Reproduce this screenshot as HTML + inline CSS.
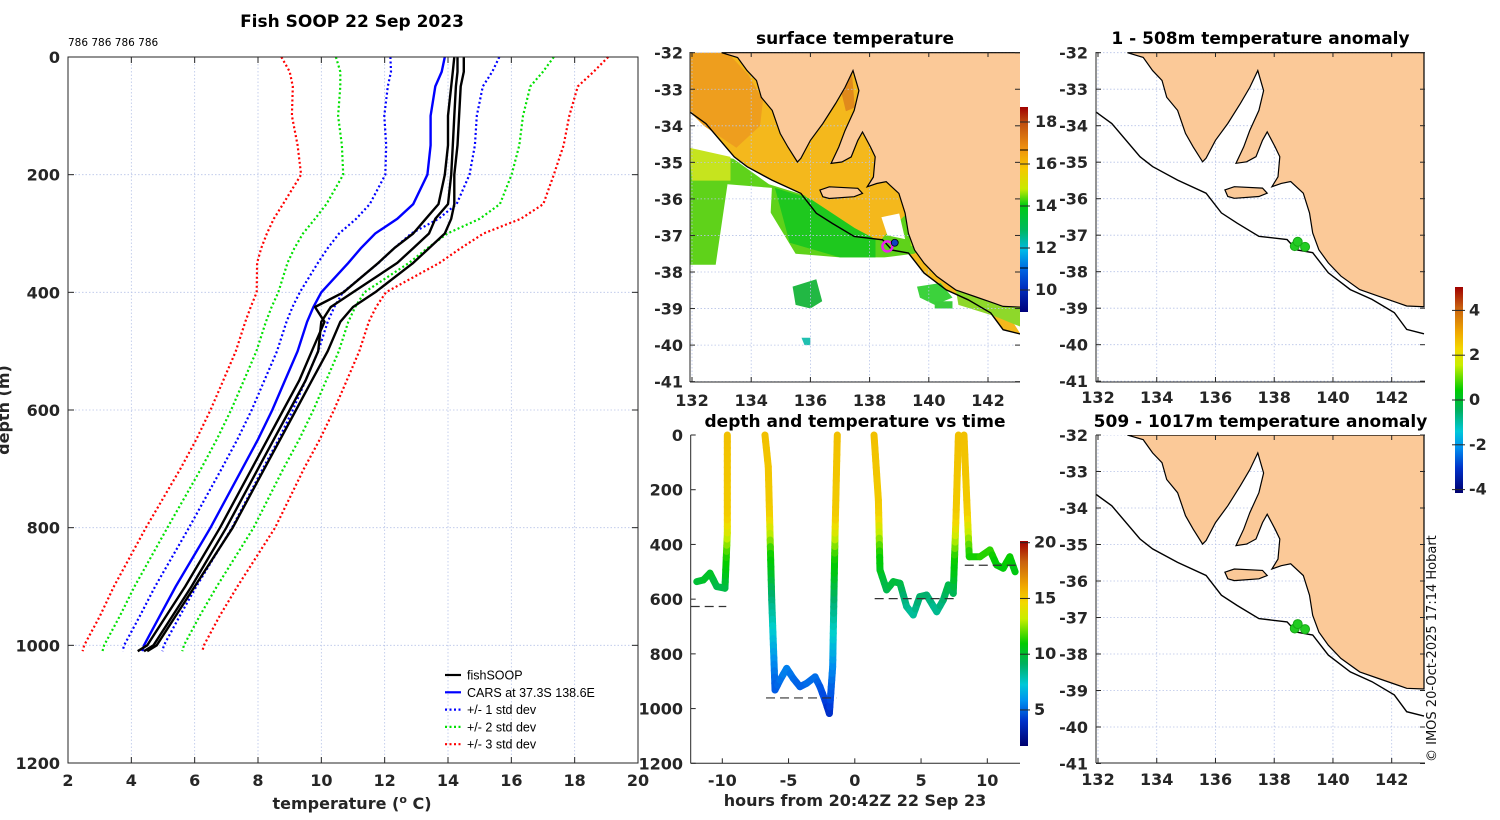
<!DOCTYPE html>
<html><head><meta charset="utf-8">
<style>
html,body{margin:0;padding:0;background:#fff;}
svg{display:block;font-family:"DejaVu Sans","Liberation Sans",sans-serif;}
.tk{font-size:16px;font-weight:bold;fill:#262626;}
.ttl{font-size:17px;font-weight:bold;fill:#000;}
</style></head>
<body>
<svg id="fig" width="1500" height="820" viewBox="0 0 1500 820" xmlns="http://www.w3.org/2000/svg">
<defs>
<linearGradient id="sstcb" x1="0" y1="1" x2="0" y2="0">
<stop offset="0" stop-color="#00007a"/><stop offset="0.12" stop-color="#0030c0"/><stop offset="0.2" stop-color="#0060e0"/>
<stop offset="0.3" stop-color="#00b8e8"/><stop offset="0.4" stop-color="#00b860"/><stop offset="0.52" stop-color="#00cc10"/>
<stop offset="0.6" stop-color="#c8ea00"/><stop offset="0.7" stop-color="#f6c800"/><stop offset="0.8" stop-color="#ee9010"/>
<stop offset="0.92" stop-color="#c05010"/><stop offset="1" stop-color="#a00000"/>
</linearGradient>
<linearGradient id="jetcb" x1="0" y1="1" x2="0" y2="0">
<stop offset="0" stop-color="#00006e"/><stop offset="0.12" stop-color="#0030c8"/><stop offset="0.22" stop-color="#0090f0"/>
<stop offset="0.3" stop-color="#00c8d8"/><stop offset="0.4" stop-color="#00b060"/><stop offset="0.5" stop-color="#00cc00"/>
<stop offset="0.62" stop-color="#c8ee00"/><stop offset="0.7" stop-color="#f4d800"/><stop offset="0.78" stop-color="#f0a800"/>
<stop offset="0.9" stop-color="#c86010"/><stop offset="1" stop-color="#a00000"/>
</linearGradient>
</defs>
<g id="root"></g>
</svg>
<script>
// ---------- DATA ----------
const depths = [0,25,50,100,150,200,250,275,300,325,350,400,425,450,500,550,600,650,700,800,900,950,1000,1010];
const carsMean = [13.9,13.8,13.6,13.45,13.45,13.35,12.9,12.4,11.7,11.25,10.85,10.0,9.75,9.55,9.25,8.85,8.45,8.0,7.5,6.5,5.4,4.9,4.4,4.35];
const carsStd = [1.72,1.6,1.5,1.46,1.4,1.33,1.37,1.3,1.14,1.05,0.96,0.68,0.66,0.65,0.65,0.65,0.65,0.65,0.65,0.68,0.65,0.63,0.63,0.63];
const soop1 = [14.3,14.3,14.25,14.2,14.15,14.1,14.0,13.6,13.4,12.9,12.4,11.0,10.3,10.0,9.9,9.5,9.0,8.5,8.0,7.0,5.9,5.3,4.7,4.4];
const soop2 = [14.5,14.5,14.4,14.35,14.3,14.2,14.2,14.1,13.9,13.4,12.9,11.7,11.0,10.6,10.2,9.7,9.2,8.7,8.2,7.2,6.0,5.4,4.8,4.5];
const soop3 = [14.2,14.15,14.1,14.0,14.0,13.9,13.7,13.3,12.9,12.3,11.8,10.7,9.8,10.1,9.7,9.3,8.8,8.3,7.8,6.8,5.7,5.1,4.5,4.2];
const tempTicks = [2,4,6,8,10,12,14,16,18,20];
const depthTicks = [0,200,400,600,800,1000,1200];

const segTimes = [
 [-11.93,-11.43,-10.93,-10.42,-9.8,-9.62,-9.62],
 [-6.78,-6.53,-6.27,-6.02,-5.65,-5.14,-4.64,-4.14,-3.64,-3.0,-2.63,-2.25,-1.92,-1.67,-1.49,-1.32],
 [1.45,1.78,1.9,2.4,2.91,3.41,3.91,4.41,4.9,5.42,6.18,6.68,7.06,7.43,7.64,7.82],
 [8.24,8.45,8.64,9.45,10.2,10.71,11.2,11.7,12.1]];
const segDepths = [
 [536,530,505,554,560,358,0],
 [0,116,603,932,896,853,890,920,908,884,920,969,1018,847,359,0],
 [0,238,493,566,536,542,627,658,591,585,646,603,548,579,298,0],
 [0,238,445,445,420,475,487,445,500]];
const meanDepth = [627,961,598,476];
const meanStart = [-12.5,-6.7,1.5,8.3];
const meanEnd = [-9.7,-1.4,7.7,12.5];
const hourTicks = [-10,-5,0,5,10];

const latTicks = [-32,-33,-34,-35,-36,-37,-38,-39,-40,-41];
const lonTicks = [132,134,136,138,140,142];
const coastLon = [133.0,133.54,133.86,134.18,134.34,134.71,134.98,135.24,135.56,135.68,136.0,136.42,136.85,137.17,137.44,137.64,137.48,137.17,136.96,136.7,137.06,137.38,137.6,137.76,138.03,138.19,138.13,137.92,138.24,138.56,138.99,139.2,139.31,139.52,139.84,140.27,140.91,141.55,142.19,142.51,143.1,143.1];
const coastLat = [-32.0,-32.13,-32.49,-32.76,-33.22,-33.58,-34.21,-34.58,-34.99,-34.89,-34.40,-33.94,-33.39,-32.95,-32.49,-33.04,-33.58,-34.13,-34.58,-35.03,-34.99,-34.85,-34.40,-34.17,-34.58,-34.85,-35.40,-35.67,-35.58,-35.53,-35.85,-36.39,-36.94,-37.40,-37.76,-38.12,-38.49,-38.67,-38.85,-38.94,-38.96,-32.0];
const kiLon = [136.32,136.64,137.6,137.76,137.48,136.64,136.42];
const kiLat = [-35.76,-35.67,-35.71,-35.85,-35.94,-35.99,-35.94];
const shelfLon = [131.94,132.47,133.43,133.86,134.71,135.68,136.2,136.74,137.48,138.44,138.76,139.31,139.84,140.59,141.33,142.09,142.51,143.1];
const shelfLat = [-33.63,-33.94,-34.85,-35.12,-35.49,-35.85,-36.39,-36.67,-37.03,-37.12,-37.40,-37.48,-38.03,-38.49,-38.76,-39.12,-39.58,-39.7];
const anomLon = [138.7,138.8,139.05];
const anomLat = [-37.3,-37.18,-37.32];

// ---------- HELPERS ----------
const NS='http://www.w3.org/2000/svg';
const root=document.getElementById('root');
function el(tag,attrs,parent,txt){const e=document.createElementNS(NS,tag);for(const k in attrs)e.setAttribute(k,attrs[k]);if(txt!==undefined)e.textContent=txt;(parent||root).appendChild(e);return e;}
function lerp(xs,ys,x){if(x<=xs[0])return ys[0];for(let i=1;i<xs.length;i++){if(x<=xs[i]){const t=(x-xs[i-1])/(xs[i]-xs[i-1]);return ys[i-1]+t*(ys[i]-ys[i-1]);}}return ys[ys.length-1];}

// ---------- LEFT PROFILE PLOT ----------
const L={x0:68,x1:638,y0:57,y1:763};
const tx=t=>L.x0+(t-2)/18*(L.x1-L.x0);
const dy=d=>L.y0+d/1200*(L.y1-L.y0);
const gL=el('g',{});


tempTicks.forEach(t=>{const x=tx(t);
 if(t>2&&t<20){const g=el('line',{x1:x,y1:L.y0,x2:x,y2:L.y1,stroke:'#b8c4e8','stroke-width':0.8,'stroke-dasharray':'1.5,2'},gL);}
 el('line',{x1:x,y1:L.y1,x2:x,y2:L.y1-6,stroke:'#262626'},gL);el('line',{x1:x,y1:L.y0,x2:x,y2:L.y0+6,stroke:'#262626'},gL);
 const lb=el('text',{x:x,y:786,'text-anchor':'middle',class:'tk'},gL,String(t));});
depthTicks.forEach(d=>{const y=dy(d);
 if(d>0&&d<1200){const g=el('line',{x1:L.x0,y1:y,x2:L.x1,y2:y,stroke:'#b8c4e8','stroke-width':0.8,'stroke-dasharray':'1.5,2'},gL);}
 el('line',{x1:L.x0,y1:y,x2:L.x0+6,y2:y,stroke:'#262626'},gL);el('line',{x1:L.x1,y1:y,x2:L.x1-6,y2:y,stroke:'#262626'},gL);
 const lb=el('text',{x:60,y:y+6,'text-anchor':'end',class:'tk'},gL,String(d));});
function profPath(vals){return depths.map((d,i)=>(i?'L':'M')+tx(vals[i]).toFixed(1)+','+dy(d).toFixed(1)).join(' ');}
function stdPath(k){return depths.map((d,i)=>(i?'L':'M')+tx(carsMean[i]+k*carsStd[i]).toFixed(1)+','+dy(d).toFixed(1)).join(' ');}
const stdCol={1:'#0000ff',2:'#00e000',3:'#ff0000'};
[3,2,1].forEach(k=>{[-1,1].forEach(s=>{const p=el('path',{d:stdPath(s*k),fill:'none',stroke:stdCol[k],'stroke-width':2.2,'stroke-dasharray':'2,2.5'},gL);
 });});
const cars=el('path',{d:profPath(carsMean),fill:'none',stroke:'#0000ff','stroke-width':2.4},gL);

[soop1,soop2,soop3].forEach((v,i)=>{const p=el('path',{d:profPath(v),fill:'none',stroke:'#000','stroke-width':2.4,'stroke-linejoin':'round'},gL);
 });
const frL=el('rect',{x:L.x0,y:L.y0,width:L.x1-L.x0,height:L.y1-L.y0,fill:'none',stroke:'#262626','stroke-width':1},gL);

const t1=el('text',{x:352,y:27,'text-anchor':'middle',class:'ttl'},gL,'Fish SOOP 22 Sep 2023');

const cnt=el('text',{x:68,y:46,'font-size':'10.5px',fill:'#000'},gL,'786 786 786 786');

const xl=el('text',{x:352,y:809,'text-anchor':'middle',class:'tk','font-size':'16px'},gL);
xl.innerHTML='temperature (<tspan dy="-6" font-size="11">o</tspan><tspan dy="6"> C)</tspan>';

const yl=el('text',{x:0,y:0,transform:'translate(9,410) rotate(-90)','text-anchor':'middle',class:'tk','font-size':'16px'},gL,'depth (m)');

const leg=el('g',{},gL);
[['fishSOOP','#000',''],['CARS at 37.3S 138.6E','#0000ff',''],['+/- 1 std dev','#0000ff','2,2.5'],['+/- 2 std dev','#00e000','2,2.5'],['+/- 3 std dev','#ff0000','2,2.5']].forEach((e,i)=>{
 const y=675+i*17.3;const g=el('g',{},leg);
 el('line',{x1:445,y1:y,x2:461,y2:y,stroke:e[1],'stroke-width':2.2,'stroke-dasharray':e[2]||'none'},g);
 el('text',{x:467,y:y+4.5,'font-size':'12.5px',fill:'#000','font-family':'"Liberation Sans",sans-serif'},g,e[0]);});

// ---------- MAPS ----------
function makeMap(name,px0,py0,sx,sy,x0,x1,y0,y1,lonLabY,latLabX){
 const g=el('g',{});
 const P=(lon,lat)=>[px0+(lon-132)*sx,py0+(-32-lat)*sy];
 const cid='clip'+name;const cp=el('clipPath',{id:cid},g);el('rect',{x:x0,y:y0,width:x1-x0,height:y1-y0},cp);
 const inner=el('g',{'clip-path':'url(#'+cid+')'},g);
 return {g,inner,P,x0,x1,y0,y1,lonLabY,latLabX};
}
function poly(P,lons,lats){return lons.map((l,i)=>{const p=P(l,lats[i]);return (i?'L':'M')+p[0].toFixed(1)+','+p[1].toFixed(1);}).join(' ')+'Z';}
function line(P,lons,lats){return lons.map((l,i)=>{const p=P(l,lats[i]);return (i?'L':'M')+p[0].toFixed(1)+','+p[1].toFixed(1);}).join(' ');}
function finishMap(m,title,titleY){
 const {g,inner,P}=m;
 lonTicks.forEach(l=>{const x=P(l,-32)[0];
  el('line',{x1:x,y1:m.y0,x2:x,y2:m.y1,stroke:'#b8c4e8','stroke-width':0.8,'stroke-dasharray':'1.5,2'},inner);
  el('line',{x1:x,y1:m.y1,x2:x,y2:m.y1-5,stroke:'#262626'},g);el('line',{x1:x,y1:m.y0,x2:x,y2:m.y0+5,stroke:'#262626'},g);
  const t=el('text',{x:x,y:m.lonLabY,'text-anchor':'middle',class:'tk'},g,String(l));});
 latTicks.forEach(l=>{const y=P(132,l)[1];
  el('line',{x1:m.x0,y1:y,x2:m.x1,y2:y,stroke:'#b8c4e8','stroke-width':0.8,'stroke-dasharray':'1.5,2'},inner);
  el('line',{x1:m.x0,y1:y,x2:m.x0+5,y2:y,stroke:'#262626'},g);el('line',{x1:m.x1,y1:y,x2:m.x1-5,y2:y,stroke:'#262626'},g);
  const t=el('text',{x:m.latLabX,y:y+6,'text-anchor':'end',class:'tk'},g,String(l));});
 const land=el('path',{d:poly(P,coastLon,coastLat)+' '+poly(P,kiLon,kiLat),fill:'#fbc998',stroke:'#000','stroke-width':1.2},inner);
 
 const sh=el('path',{d:line(P,shelfLon,shelfLat),fill:'none',stroke:'#000','stroke-width':1.4},inner);
 
 el('line',{x1:m.x0,y1:m.y1,x2:m.x1,y2:m.y1,stroke:'#262626'},g);el('line',{x1:m.x0,y1:m.y0,x2:m.x0,y2:m.y1,stroke:'#262626'},g);
 const tt=el('text',{x:(m.x0+m.x1)/2,y:titleY,'text-anchor':'middle',class:'ttl'},g,title);
}
// surface temperature map
const m1=makeMap('sst-map',692,52.7,29.6,36.55,690,1020,52,382,406,683);
(function(){const P=m1.P,I=m1.inner;
 const sea=[[131.9,-32],[133.0,-32]].concat(coastLon.map((l,i)=>[l,coastLat[i]]).slice(1,-2)).concat(shelfLon.slice().reverse().map((l,i)=>[l,shelfLat[shelfLat.length-1-i]]));
 el('path',{d:sea.map((p,i)=>{const q=P(p[0],p[1]);return (i?'L':'M')+q[0]+','+q[1];}).join(' ')+'Z',fill:'#f4b81c'},I);
 const f=(lons,lats,c)=>el('path',{d:poly(P,lons,lats),fill:c},I);
 f([131.9,133.2,133.9,134.4,134.3,133.5,132.4,131.9],[-32,-32,-32.6,-33.3,-34.0,-34.6,-34.0,-33.6],'#ee9e1e');
 f([136.9,137.4,137.5,137.2],[-32.6,-32.5,-33.5,-33.6],'#e08a1c');
 f([131.9,133.4,134.6,135.8,136.5,137.5,138.4,139.0,139.4,139.8,140.0,139.5,138.5,137.0,135.5,134.6,133.2,132.8,131.9],[-34.7,-34.9,-35.6,-35.9,-36.4,-37.0,-37.1,-36.6,-36.3,-36.7,-37.3,-37.5,-37.6,-37.6,-37.5,-36.3,-35.6,-37.8,-37.8],'#5fd21a');
 f([131.9,133.3,133.3,132.0],[-34.6,-34.85,-35.5,-35.5],'#c6e41e');
 f([134.8,136.0,137.5,138.2,138.2,137.0,135.3],[-35.7,-36.0,-36.8,-37.1,-37.6,-37.6,-37.2],'#1ec81e');
 f([133.2,134.7,134.6,133.5],[-35.6,-35.7,-37.3,-37.5],'#ffffff');
 f([138.4,139.0,139.2,138.6],[-36.5,-36.4,-37.1,-37.0],'#ffffff');
 f([139.2,139.6,139.8,139.4],[-36.2,-36.5,-37.2,-37.3],'#b8e020');
 f([135.4,136.2,136.4,136.0,135.5],[-38.4,-38.2,-38.8,-39.0,-38.9],'#22b844');
 f([139.6,140.4,140.8,140.2,139.7],[-38.4,-38.3,-38.7,-38.9,-38.7],'#3cd23c');
 f([140.9,141.9,143.1,143.1,142.2,141.0],[-38.4,-38.5,-38.9,-39.5,-39.2,-38.9],'#8ed82a');
 f([135.7,136.0,136.0,135.8],[-39.8,-39.8,-40.0,-40.0],'#20c0b0');
 f([140.2,140.8,140.8,140.2],[-38.8,-38.8,-39.0,-39.0],'#3ccc3c');
 finishMap(m1,'surface temperature',44);
 const c=P(138.6,-37.3);const mk=el('circle',{cx:c[0],cy:c[1],r:5,fill:'none',stroke:'#ee22ee','stroke-width':2.5},m1.g);
 
 const c2=P(138.85,-37.2);el('circle',{cx:c2[0],cy:c2[1],r:3.5,fill:'#1040c0',stroke:'#000','stroke-width':0.8},m1.g);
})();
// colorbar sst
(function(){const g=el('g',{});
 el('rect',{x:1020,y:107,width:8,height:205,fill:'url(#sstcb)'},g);
 [18,16,14,12,10].forEach(v=>{const y=122+(18-v)*21;el('line',{x1:1020,y1:y,x2:1030,y2:y,stroke:'#262626'},g);
  const t=el('text',{x:1035,y:y+5,class:'tk','font-size':'13.5px'},g,String(v));});
 el('line',{x1:1020,y1:150,x2:1028,y2:150,stroke:'#000'},g);el('line',{x1:1020,y1:268,x2:1028,y2:268,stroke:'#000'},g);})();
// anomaly maps
function anomMap(name,py0,y0,y1,lonY,title,titleY){
 const m=makeMap(name,1098,py0,29.37,36.5,1096,1425,y0,y1,lonY,1088);
 finishMap(m,title,titleY);
 anomLon.forEach((l,i)=>{const p=m.P(l,anomLat[i]);const d=el('circle',{cx:p[0],cy:p[1],r:4.5,fill:'#22cc22',stroke:'#18a818','stroke-width':1},m.g);
  });
}
anomMap('anomaly-map-shallow',52.7,52,382,403,'1 - 508m temperature anomaly',44);
anomMap('anomaly-map-deep',435,435,763,785,'509 - 1017m temperature anomaly',427);
(function(){const g=el('g',{});
 el('rect',{x:1455,y:287,width:8,height:206,fill:'url(#jetcb)'},g);
 [4,2,0,-2,-4].forEach(v=>{const y=400-v*22.4;el('line',{x1:1452,y1:y,x2:1465,y2:y,stroke:'#262626'},g);
  const t=el('text',{x:1469,y:y+5,class:'tk','font-size':'13.5px'},g,String(v));});})();
const cp=el('text',{x:0,y:0,transform:'translate(1436,762) rotate(-90)','font-size':'13px',fill:'#111','font-family':'"DejaVu Sans",sans-serif'},root,'© IMOS 20-Oct-2025 17:14 Hobart');


// ---------- TIME PLOT ----------
const T={x0:690.7,x1:1020,y0:435,y1:763.3};
const hx=h=>854.8+h*13.25;
const dY=d=>T.y0+d/1200*(T.y1-T.y0);
const cstops=[[1.6,[0,0,128]],[4,[0,64,224]],[6,[0,144,240]],[7.5,[0,208,208]],[9,[0,176,112]],[10.5,[0,204,0]],[12.5,[200,238,0]],[13.6,[244,220,0]],[15,[240,176,0]],[17,[208,112,16]],[20,[160,0,0]]];
function cmap(t){for(let i=1;i<cstops.length;i++){if(t<=cstops[i][0]||i==cstops.length-1){const a=cstops[i-1],b=cstops[i];const f=Math.max(0,Math.min(1,(t-a[0])/(b[0]-a[0])));return 'rgb('+a[1].map((c,j)=>Math.round(c+f*(b[1][j]-c))).join(',')+')';}}}
const gT=el('g',{});
segTimes.forEach((ts,s)=>{const ds=segDepths[s];
 for(let i=1;i<ts.length;i++){const n=Math.max(1,Math.ceil(Math.abs(ds[i]-ds[i-1])/25));
  for(let k=0;k<n;k++){const a=k/n,b=(k+1)/n;const t0=ts[i-1]+a*(ts[i]-ts[i-1]),t1=ts[i-1]+b*(ts[i]-ts[i-1]);
   const d0=ds[i-1]+a*(ds[i]-ds[i-1]),d1=ds[i-1]+b*(ds[i]-ds[i-1]);const dm=(d0+d1)/2;
   const temp=lerp(depths,soop2,dm)-Math.max(0,(dm-500)/500)*1.2;
   const ln=el('line',{x1:hx(t0),y1:dY(d0),x2:hx(t1),y2:dY(d1),stroke:cmap(temp),'stroke-width':7,'stroke-linecap':'round'},gT);
   }}});
meanDepth.forEach((d,i)=>{const ln=el('line',{x1:Math.max(T.x0,hx(meanStart[i])),y1:dY(d),x2:Math.min(T.x1,hx(meanEnd[i])),y2:dY(d),stroke:'#333','stroke-width':1.2,'stroke-dasharray':'9,5'},gT);
 });
el('line',{x1:T.x0,y1:T.y0,x2:T.x0,y2:T.y1,stroke:'#262626'},gT);el('line',{x1:T.x0,y1:T.y1,x2:T.x1,y2:T.y1,stroke:'#262626'},gT);
hourTicks.forEach(h=>{const x=hx(h);el('line',{x1:x,y1:T.y1,x2:x,y2:T.y1-5,stroke:'#262626'},gT);
 const t=el('text',{x:x,y:786,'text-anchor':'middle',class:'tk'},gT,String(h));});
depthTicks.forEach(d=>{const y=dY(d);el('line',{x1:T.x0,y1:y,x2:T.x0+5,y2:y,stroke:'#262626'},gT);
 const t=el('text',{x:683,y:y+6,'text-anchor':'end',class:'tk'},gT,String(d));});
const tt2=el('text',{x:855,y:427,'text-anchor':'middle',class:'ttl'},gT,'depth and temperature vs time');
const xt2=el('text',{x:855,y:806,'text-anchor':'middle',class:'tk','font-size':'16px'},gT,'hours from 20:42Z 22 Sep 23');
(function(){const g=el('g',{},gT);
 el('rect',{x:1020,y:541,width:8,height:205,fill:'url(#jetcb)'},g);
 [20,15,10,5].forEach(v=>{const y=542.7+(20-v)*11.15;el('line',{x1:1020,y1:y,x2:1030,y2:y,stroke:'#262626'},g);
  const t=el('text',{x:1034,y:y+5,class:'tk','font-size':'13.5px'},g,String(v));});})();
</script>
</body></html>
